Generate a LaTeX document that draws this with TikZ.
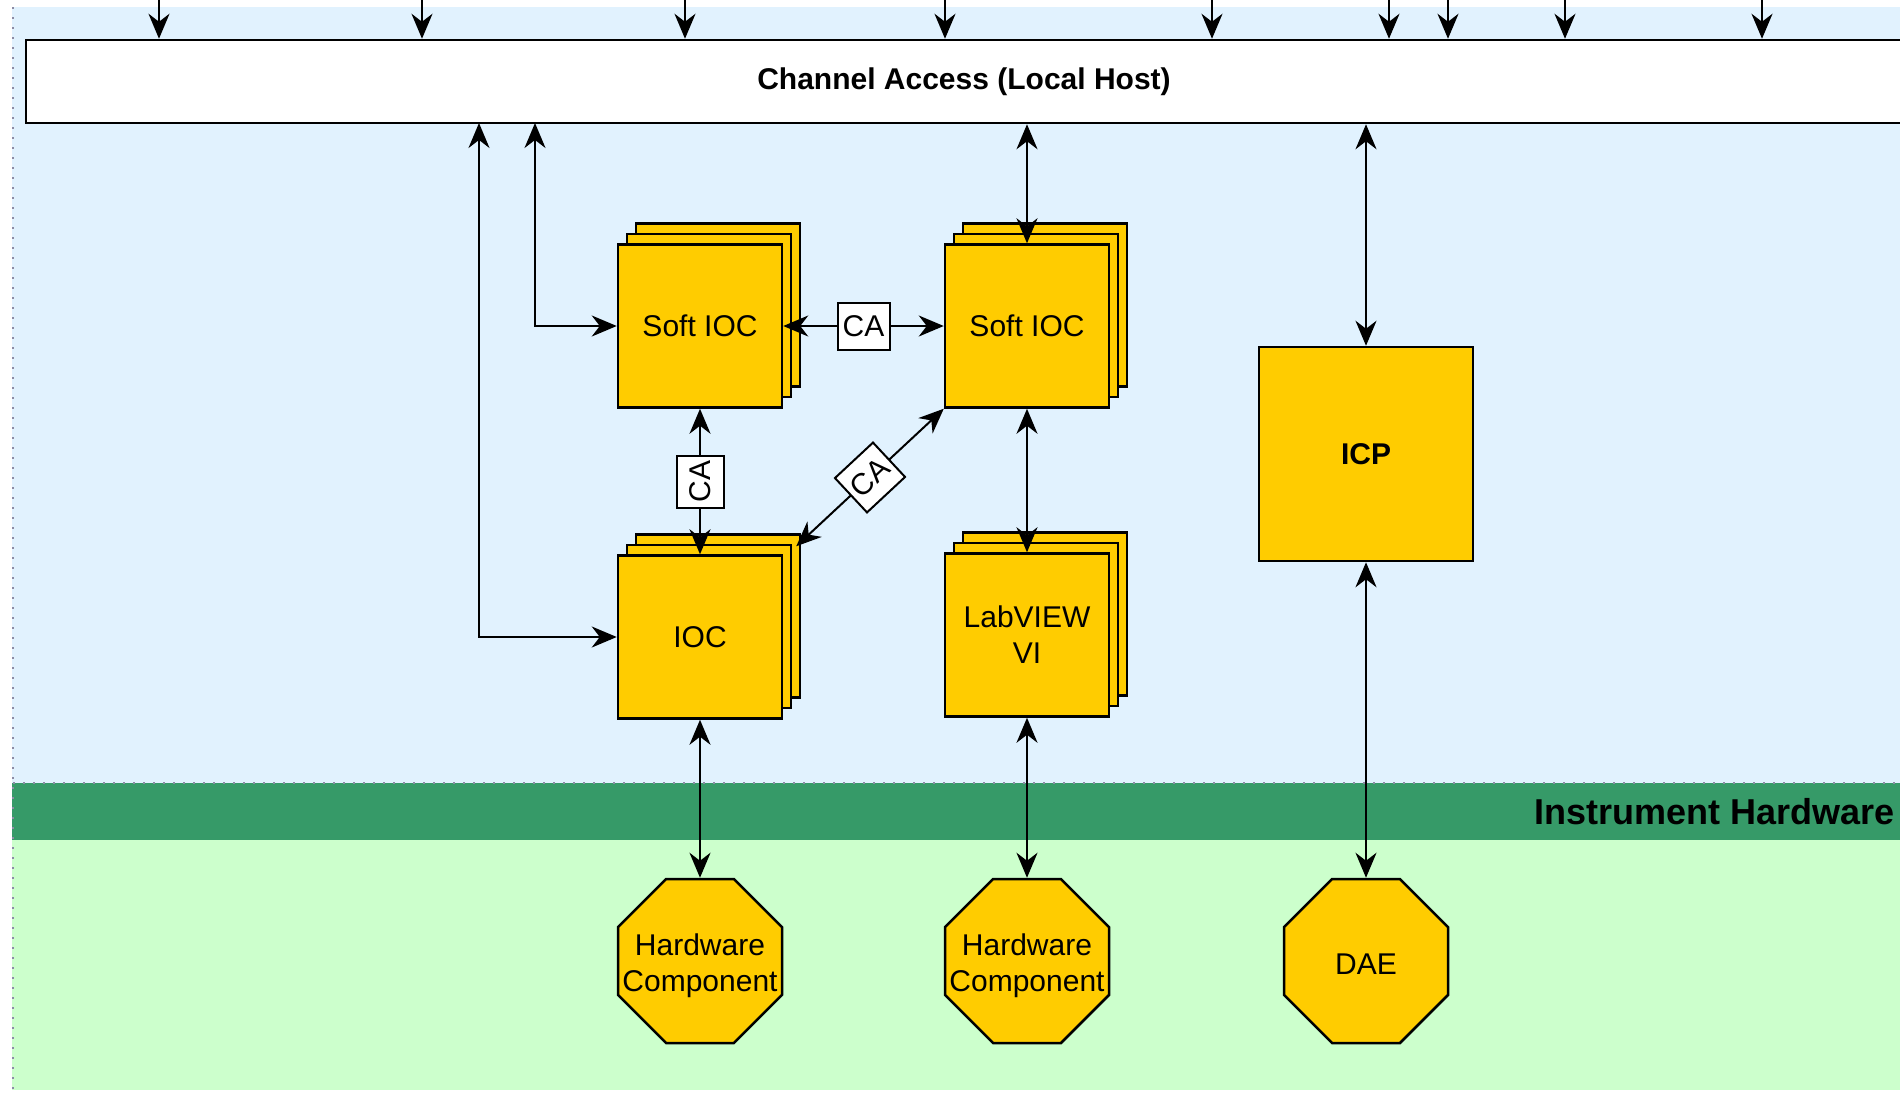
\documentclass[tikz,border=0pt]{standalone}
\usepackage{fontspec}
\setmainfont{Liberation Sans}
\usetikzlibrary{arrows.meta,shapes.geometric,shadows}
\definecolor{L}{RGB}{225,242,254}
\definecolor{G}{RGB}{54,154,104}
\definecolor{F}{RGB}{204,255,204}
\definecolor{Y}{RGB}{255,204,0}
\definecolor{D}{RGB}{140,140,165}
\def\Wpic{1900}
\def\Hpic{1093}
\def\Bw{164pt}
\def\Bh{163pt}
\def\Lx{9pt}
\def\Ly{10.5pt}
\def\TopArrows{159,422,685,945,1212,1389,1448,1565,1762}
\newcommand\ftxt{\fontsize{30}{36}\selectfont}
\newcommand\fbig{\fontsize{36}{42}\selectfont}
\tikzset{
    tip/.tip={Stealth[length=25pt,width=21pt,inset=8pt]},
    one/.style={-tip,line width=2pt},
    both/.style={tip-tip,line width=2pt},
    stack/.style={draw,fill=Y,line width=2.5pt,minimum width=\Bw,minimum height=\Bh,align=center,font=\ftxt,
        double copy shadow={shadow xshift=\Lx,shadow yshift=\Ly,draw=black,fill=Y}},
    block/.style={draw,fill=Y,line width=2.5pt,minimum width=214pt,minimum height=214pt,font=\ftxt\bfseries},
    octo/.style={regular polygon,regular polygon sides=8,draw,fill=Y,line width=2.5pt,inner sep=0pt,minimum size=177.5pt},
    octotext/.style={align=center,font=\ftxt,inner sep=0pt,yshift=-5pt},
    tag/.style={draw,fill=white,line width=2pt,font=\ftxt,inner sep=3pt,minimum width=52pt,minimum height=47pt},
    lane/.style={D,line width=1.5pt,dash pattern=on 1.5pt off 8.5pt},
}
\begin{document}
\begin{tikzpicture}[x=1pt,y=-1pt]
    \path[use as bounding box] (0,0) rectangle (\Wpic,\Hpic);
    % lanes
    \fill[L] (12,7) rectangle (1905,783);
    \fill[G] (12,783) rectangle (1905,840);
    \fill[F] (12,840) rectangle (1905,1090);
    \draw[lane] (13,7) -- (13,1090);
    \draw[lane] (13,783) -- (1905,783);
    \node[font=\fbig\bfseries,anchor=east,inner sep=0pt] (hwlane) at (1895,812) {Instrument Hardware};
    % channel access bus
    \node[draw,fill=white,line width=2.5pt,minimum width=1876pt,minimum height=83pt,font=\ftxt\bfseries] (chan) at (964,81.5) {Channel Access (Local Host)};
    \foreach \X [count=\i] in \TopArrows {
        \coordinate (in\i) at (\X,0);
        \draw[one] (in\i) -- (in\i |- chan.north);
    }
    % IOCs
    \node[stack] (softa) at (700,326) {Soft IOC};
    \node[stack] (softb) at (1027,326) {Soft IOC};
    \node[stack] (ioc) at (700,637) {IOC};
    \node[stack] (labview) at (1027,635) {LabVIEW\\VI};
    \node[block] (icp) at (1366,454) {ICP};
    % hardware
    \node[octo] (hwa) at (700,961) {};
    \node[octo] (hwb) at (1027,961) {};
    \node[octo] (dae) at (1366,961) {};
    \node[octotext] (hwatext) at (hwa) {Hardware\\Component};
    \node[octotext] (hwbtext) at (hwb) {Hardware\\Component};
    \node[octotext,yshift=2pt] (daetext) at (dae) {DAE};
    % links
    \coordinate (tapa) at (535,123);
    \coordinate (tapb) at (479,123);
    \draw[both] (tapa) |- (softa.west);
    \draw[both] (tapb) |- (ioc.west);
    \draw[both] (softa.east) -- node[tag] (caab) {CA} (softb.west);
    \draw[both] (ioc.north) -- node[tag,rotate=90] (caac) {CA} (softa.south);
    \draw[both] ([shift={(13,-8)}]ioc.north east) -- node[tag,sloped] (cabc) {CA} (softb.south west);
    \draw[both] (chan.south -| softb.north) -- (softb.north);
    \draw[both] (chan.south -| icp.north) -- (icp.north);
    \draw[both] (softb.south) -- (labview.north);
    \draw[both] (ioc.south) -- (hwa.north);
    \draw[both] (labview.south) -- (hwb.north);
    \draw[both] (icp.south) -- (dae.north);
\end{tikzpicture}
\end{document}
